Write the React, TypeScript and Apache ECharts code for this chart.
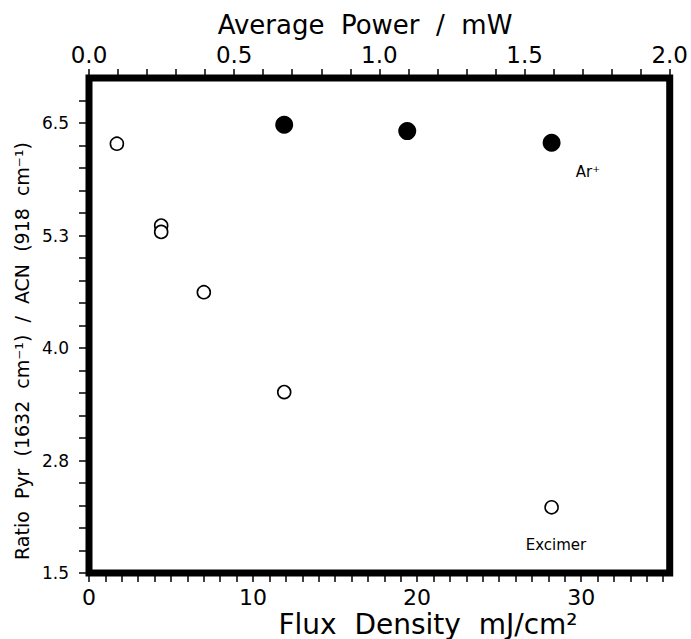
import React, { useEffect, useRef } from "react";
import * as echarts from "echarts";

// Tick labels
const powerTicks = [0, 0.5, 1.0, 1.5, 2.0];
const fluxTicks = [0, 10, 20, 30];
const ratioTicks = [1.5, 2.75, 4.0, 5.25, 6.5];

// Excimer laser (open circles)
const excimerFlux = [1.7, 4.4, 4.4, 7.0, 11.9, 28.2];
const excimerRatio = [6.27, 5.36, 5.29, 4.62, 3.51, 2.23];

// Ar+ laser (filled circles)
const arFlux = [11.9, 19.4, 28.2];
const arRatio = [6.48, 6.41, 6.28];

const FONT = "'DejaVu Sans', sans-serif";

const isTick = (list: number[], v: number) => list.some((t) => Math.abs(t - v) < 1e-6);

export default function App() {
  const ref = useRef<HTMLDivElement>(null);

  useEffect(() => {
    if (!ref.current) return;
    const chart = echarts.init(ref.current, null, { renderer: "svg" });
    const tickStyle = { color: "#000", width: 1.5 };
    chart.setOption({
      animation: false,
      backgroundColor: "#fff",
      grid: {
        left: 89,
        right: 19,
        top: 78,
        bottom: 66,
        show: true,
        borderColor: "#000",
        borderWidth: 7,
        backgroundColor: "transparent",
      },
      xAxis: [
        {
          type: "value",
          position: "bottom",
          min: 0,
          max: 35.4,
          interval: 1,
          splitLine: { show: false },
          axisLine: { show: false },
          axisTick: { show: true, length: 9, lineStyle: tickStyle },
          axisLabel: {
            interval: 0,
            margin: 13,
            fontSize: 22,
            fontFamily: FONT,
            color: "#000",
            showMaxLabel: false,
            formatter: (v: number) => (isTick(fluxTicks, v) ? String(Math.round(v)) : ""),
          },
        },
        {
          type: "value",
          position: "top",
          min: 0,
          max: 2,
          interval: 0.1,
          splitLine: { show: false },
          axisLine: { show: false },
          axisTick: { show: true, length: 9, lineStyle: tickStyle },
          axisLabel: {
            interval: 0,
            margin: 12,
            fontSize: 23,
            fontFamily: FONT,
            color: "#000",
            formatter: (v: number) => (isTick(powerTicks, v) ? v.toFixed(1) : ""),
          },
        },
      ],
      yAxis: {
        type: "value",
        min: 1.5,
        max: 7.0,
        interval: 0.25,
        splitLine: { show: false },
        axisLine: { show: false },
        axisTick: { show: true, length: 10, lineStyle: tickStyle },
        axisLabel: {
          interval: 0,
          margin: 20,
          fontSize: 17,
          fontFamily: FONT,
          color: "#000",
          showMaxLabel: false,
          formatter: (v: number) => (isTick(ratioTicks, v) ? v.toFixed(1) : ""),
        },
      },
      graphic: [
        {
          type: "text",
          x: 365,
          y: 25,
          style: {
            text: "Average  Power  /  mW",
            fontSize: 26,
            fontFamily: FONT,
            fill: "#000",
            align: "center",
            verticalAlign: "middle",
          },
        },
        {
          type: "text",
          x: 428,
          y: 624,
          style: {
            text: "Flux  Density  mJ/cm²",
            fontSize: 28,
            fontFamily: FONT,
            fill: "#000",
            align: "center",
            verticalAlign: "middle",
          },
        },
        {
          type: "text",
          x: 22,
          y: 351,
          rotation: Math.PI / 2,
          style: {
            text: "Ratio  Pyr  (1632  cm⁻¹)  /  ACN  (918  cm⁻¹)",
            fontSize: 19,
            fontFamily: FONT,
            fill: "#000",
            align: "center",
            verticalAlign: "middle",
          },
        },
        {
          type: "text",
          x: 588,
          y: 172,
          style: {
            text: "Ar⁺",
            fontSize: 15,
            fontFamily: FONT,
            fill: "#000",
            align: "center",
            verticalAlign: "middle",
          },
        },
        {
          type: "text",
          x: 556,
          y: 545,
          style: {
            text: "Excimer",
            fontSize: 15,
            fontFamily: FONT,
            fill: "#000",
            align: "center",
            verticalAlign: "middle",
          },
        },
      ],
      series: [
        {
          name: "Excimer",
          type: "scatter",
          xAxisIndex: 0,
          symbol: "circle",
          symbolSize: 13,
          itemStyle: { color: "#fff", borderColor: "#000", borderWidth: 1.6, opacity: 1 },
          data: excimerFlux.map((x, i) => [x, excimerRatio[i]]),
        },
        {
          name: "Ar+",
          type: "scatter",
          xAxisIndex: 0,
          symbol: "circle",
          symbolSize: 18,
          itemStyle: { color: "#000", opacity: 1 },
          data: arFlux.map((x, i) => [x, arRatio[i]]),
        },
      ],
    });
    return () => chart.dispose();
  }, []);

  return (
    <div
      ref={ref}
      style={{ position: "absolute", left: 0, top: 0, width: 691, height: 639, background: "#fff" }}
    />
  );
}
